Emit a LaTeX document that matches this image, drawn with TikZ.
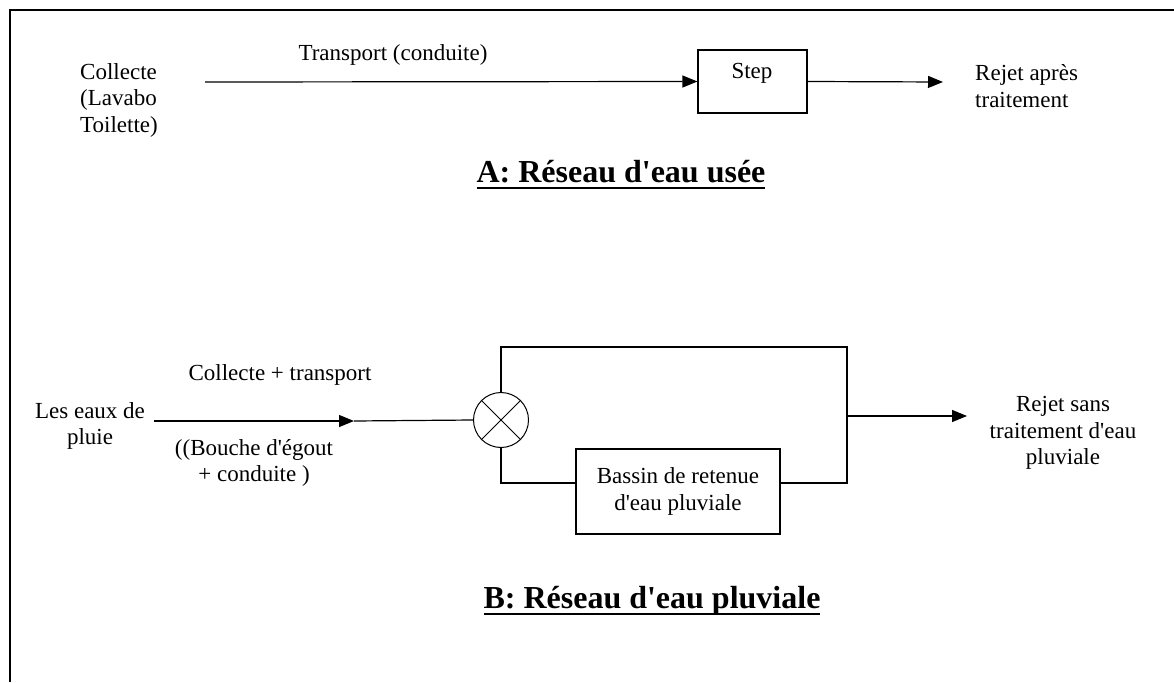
\documentclass[tikz,border=0pt]{standalone}
\usepackage{fontspec}
\setmainfont{Liberation Serif}[Ligatures=TeXOff]
\usetikzlibrary{arrows.meta}

% soulignement epais pour les titres
\newcommand{\souligne}[1]{\leavevmode\setbox0\hbox{#1}\rlap{\rule[-7pt]{\wd0}{2.5pt}}\box0}

\tikzset{
  texte/.style={font=\fontsize{23}{26.5}\selectfont, inner sep=0pt},
  titre/.style={font=\fontsize{32}{36}\selectfont\bfseries, inner sep=0pt, anchor=base},
  boite/.style={draw, line width=1.2pt, inner sep=0pt},
  trait/.style={line width=1.2pt},
  fleche/.style={trait, -{Triangle[length=15pt,width=12pt]}},
}

\begin{document}
\begin{tikzpicture}[x=1pt,y=-1pt]
    \useasboundingbox (0,0) rectangle (1174,682);

    % cadre
    \draw[trait] (10,682) -- (10,10) -- (1174,10);

    % A : reseau d'eau usee
    \node[texte, align=left, anchor=west] (collecte) at (80,100) {Collecte\\(Lavabo\\Toilette)};
    \node[texte] (transport) at (393,55) {Transport (conduite)};
    \coordinate (depA) at (205,82);
    \node[boite, minimum width=109pt, minimum height=63pt] (step) at (752.5,81.5) {};
    \node[texte] (steptxt) at (752,73) {Step};
    \draw[fleche] (depA) -- (step.west);
    \coordinate (finA) at (943,82);
    \draw[fleche] (step.east) -- (finA);
    \node[texte, align=left, anchor=west] (rejetA) at (975,86) {Rejet après\\traitement};
    \node[titre] (titreA) at (621,182) {\souligne{A: Réseau d'eau usée}};

    % B : reseau d'eau pluviale
    \node[texte, align=center] (pluie) at (90,426) {Les eaux de\\pluie};
    \node[texte] (collecteB) at (280,375) {Collecte + transport};
    \node[texte, align=center] (bouche) at (254,463) {((Bouche d'égout\\+ conduite )};
    \coordinate (depB) at (154,421);
    \coordinate (pointe) at (354,421);
    \node[draw, circle, minimum size=55pt, line width=1pt, inner sep=0pt] (melange) at (501,420) {};
    \draw[line width=1pt] (melange.north west) -- (melange.south east);
    \draw[line width=1pt] (melange.south west) -- (melange.north east);
    \draw[fleche] (depB) -- (pointe);
    \draw[trait] (pointe) -- (melange.west);

    % by-pass et bassin
    \node[boite, texte, align=center, minimum width=204pt, minimum height=85pt] (bassin) at (678,491.5) {Bassin de retenue\\d'eau pluviale};
    \coordinate (hautD) at (847,347);
    \coordinate (basD) at (847,483);
    \draw[trait] (melange.north) |- (hautD) -- (basD) -- (bassin.east |- basD);
    \draw[trait] (melange.south) |- (bassin.west |- basD);
    \coordinate (sortie) at (847,416);
    \coordinate (finB) at (967,416);
    \draw[fleche] (sortie) -- (finB);
    \node[texte, align=center] (rejetB) at (1063,433) {Rejet sans\\traitement d'eau\\pluviale};
    \node[titre] (titreB) at (652,608) {\souligne{B: Réseau d'eau pluviale}};
\end{tikzpicture}
\end{document}
